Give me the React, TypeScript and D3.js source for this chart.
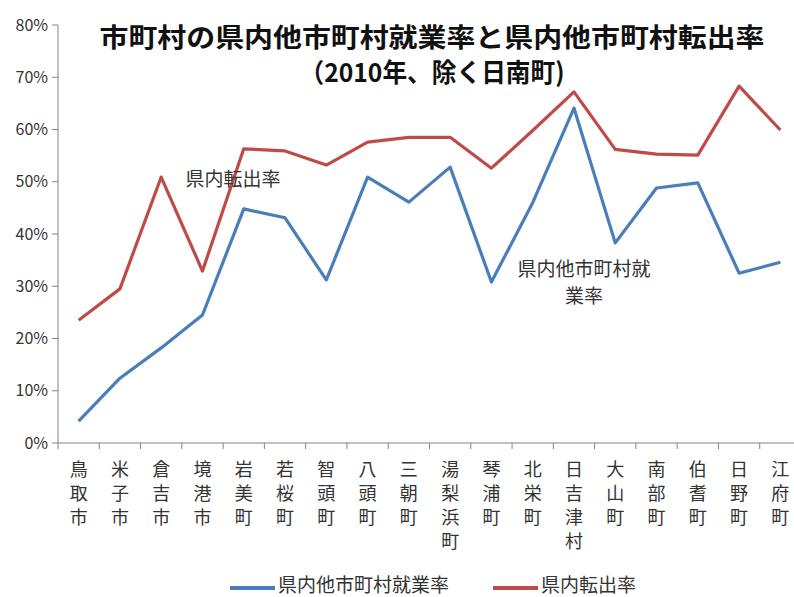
import { useEffect, useRef } from "react";
import * as d3 from "d3";

const categories = [
  "鳥取市", "米子市", "倉吉市", "境港市", "岩美町", "若桜町", "智頭町", "八頭町", "三朝町",
  "湯梨浜町", "琴浦町", "北栄町", "日吉津村", "大山町", "南部町", "伯耆町", "日野町", "江府町",
];

// 県内他市町村就業率 (%)
const employRate = [
  4.2, 12.4, 18.2, 24.5, 44.8, 43.1, 31.2, 50.9, 46.1,
  52.8, 30.8, 46.0, 64.1, 38.3, 48.8, 49.8, 32.5, 34.6,
];

// 県内転出率 (%)
const moveRate = [
  23.5, 29.5, 50.9, 32.9, 56.3, 55.9, 53.2, 57.6, 58.5,
  58.5, 52.6, 59.8, 67.2, 56.2, 55.3, 55.1, 68.3, 59.9,
];

const yTicks = [0, 10, 20, 30, 40, 50, 60, 70, 80];

const W = 794;
const H = 597;
const BLUE = "#4a7ebb";
const RED = "#be4b48";
const AXIS = "#8b8080";
const FONT = "'Noto Sans CJK JP', 'Noto Sans', sans-serif";

export default function App() {
  const svgRef = useRef<SVGSVGElement>(null);

  useEffect(() => {
    if (!svgRef.current) return;
    const svg = d3.select(svgRef.current);
    svg.selectAll("*").remove();

    svg.append("rect").attr("width", W).attr("height", H).attr("fill", "#fff");

    const x = d3.scaleBand().domain(categories).range([58, 801]);
    const y = d3.scaleLinear().domain([0, 80]).range([443, 25]);
    const cx = (c: string) => (x(c) as number) + x.bandwidth() / 2;

    // y 軸
    const yAxis = svg.append("g");
    yAxis
      .append("line")
      .attr("x1", 58)
      .attr("x2", 58)
      .attr("y1", y(80))
      .attr("y2", y(0))
      .attr("stroke", AXIS);
    yAxis
      .selectAll(".ytick")
      .data(yTicks)
      .enter()
      .append("line")
      .attr("x1", 52)
      .attr("x2", 58)
      .attr("y1", (d) => y(d))
      .attr("y2", (d) => y(d))
      .attr("stroke", AXIS);
    yAxis
      .selectAll(".ylabel")
      .data(yTicks)
      .enter()
      .append("text")
      .attr("x", 48)
      .attr("y", (d) => y(d))
      .attr("dy", "0.35em")
      .attr("text-anchor", "end")
      .attr("font-family", FONT)
      .attr("font-size", 16)
      .attr("fill", "#333")
      .text((d) => `${d}%`);

    // x 軸
    const xAxis = svg.append("g");
    xAxis
      .append("line")
      .attr("x1", 58)
      .attr("x2", 801)
      .attr("y1", y(0))
      .attr("y2", y(0))
      .attr("stroke", AXIS);
    xAxis
      .selectAll(".xtick")
      .data(categories)
      .enter()
      .append("line")
      .attr("x1", (d) => x(d) as number)
      .attr("x2", (d) => x(d) as number)
      .attr("y1", y(0))
      .attr("y2", y(0) + 6)
      .attr("stroke", AXIS);
    xAxis
      .selectAll(".xlabel")
      .data(categories)
      .enter()
      .append("g")
      .each(function (d) {
        const g = d3.select(this);
        Array.from(d).forEach((ch, i) => {
          g.append("text")
            .attr("x", cx(d))
            .attr("y", 470 + i * 24)
            .attr("dy", "0.35em")
            .attr("text-anchor", "middle")
            .attr("font-family", FONT)
            .attr("font-size", 18)
            .attr("fill", "#333")
            .text(ch);
        });
      });

    // 線
    const line = d3
      .line<number>()
      .x((_d, i) => cx(categories[i]))
      .y((d) => y(d));

    svg
      .append("path")
      .datum(employRate)
      .attr("fill", "none")
      .attr("stroke", BLUE)
      .attr("stroke-width", 3.2)
      .attr("stroke-linejoin", "round")
      .attr("d", line);

    svg
      .append("path")
      .datum(moveRate)
      .attr("fill", "none")
      .attr("stroke", RED)
      .attr("stroke-width", 3.2)
      .attr("stroke-linejoin", "round")
      .attr("d", line);

    // タイトル
    svg
      .append("text")
      .attr("x", 432)
      .attr("y", 38)
      .attr("dy", "0.35em")
      .attr("text-anchor", "middle")
      .attr("font-family", FONT)
      .attr("font-weight", "bold")
      .attr("font-size", 26)
      .attr("fill", "#111")
      .attr("textLength", 665)
      .attr("lengthAdjust", "spacingAndGlyphs")
      .text("市町村の県内他市町村就業率と県内他市町村転出率");
    svg
      .append("text")
      .attr("x", 432)
      .attr("y", 73)
      .attr("dy", "0.35em")
      .attr("text-anchor", "middle")
      .attr("font-family", FONT)
      .attr("font-weight", "bold")
      .attr("font-size", 26)
      .attr("fill", "#111")
      .attr("textLength", 265)
      .attr("lengthAdjust", "spacingAndGlyphs")
      .text("（2010年、除く日南町)");

    // 注記
    const note = (t: string, nx: number, ny: number) =>
      svg
        .append("text")
        .attr("x", nx)
        .attr("y", ny)
        .attr("dy", "0.35em")
        .attr("text-anchor", "middle")
        .attr("font-family", FONT)
        .attr("font-size", 19)
        .attr("fill", "#333")
        .text(t);
    note("県内転出率", 233, 179);
    note("県内他市町村就", 584, 269);
    note("業率", 584, 296);

    // 凡例
    const legend = [
      { label: "県内他市町村就業率", color: BLUE, x: 230 },
      { label: "県内転出率", color: RED, x: 493 },
    ];
    const lg = svg.append("g");
    legend.forEach((l) => {
      lg.append("line")
        .attr("x1", l.x)
        .attr("x2", l.x + 45)
        .attr("y1", 588)
        .attr("y2", 588)
        .attr("stroke", l.color)
        .attr("stroke-width", 4);
      lg.append("text")
        .attr("x", l.x + 48)
        .attr("y", 585)
        .attr("dy", "0.35em")
        .attr("font-family", FONT)
        .attr("font-size", 19)
        .attr("fill", "#333")
        .text(l.label);
    });
  }, []);

  return (
    <div style={{ position: "absolute", left: 0, top: 0 }}>
      <svg ref={svgRef} width={W} height={H} style={{ display: "block" }} />
    </div>
  );
}
